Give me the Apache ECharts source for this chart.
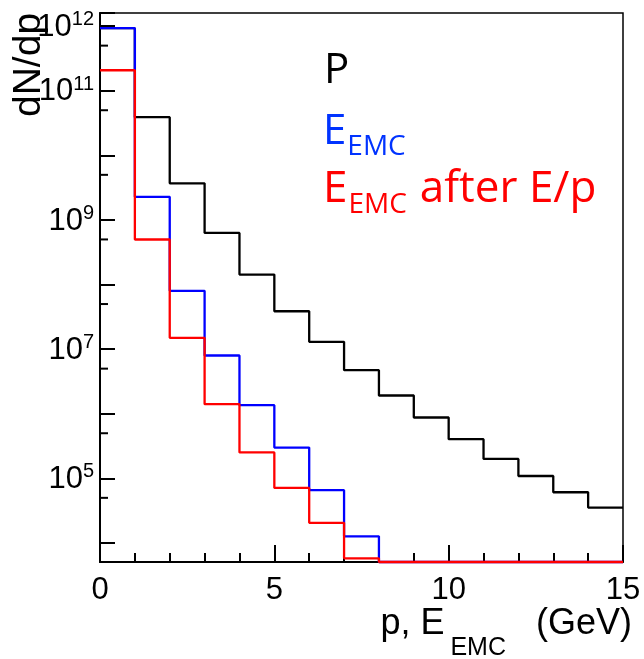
<!DOCTYPE html>
<html><head><meta charset="utf-8">
<script src="https://cdn.jsdelivr.net/npm/echarts@6/dist/echarts.min.js"></script>
<style>html,body{margin:0;padding:0;background:#fff}#c{width:644px;height:659px}</style>
</head><body><div id="c"></div>
<script>
// ---- data (bin width 1 GeV) ----
const BIN_EDGES = [0,1,2,3,4,5,6,7,8,9,10,11,12,13,14,15];
const P_COUNTS = [9.3e11, 3.9e10, 3.7e9, 6.3e8, 1.43e8, 3.87e7, 1.30e7, 4.73e6, 1.92e6, 8.76e5, 4.05e5, 2.0e5, 1.09e5, 6.1e4, 3.54e4];
const E_EMC_COUNTS = [9.3e11, 2.28e9, 8.0e7, 7.98e6, 1.36e6, 3.0e5, 6.57e4, 1.27e4, 0, 0, 0, 0, 0, 0, 0];
const E_EMC_AFTER_EP_COUNTS = [2.08e11, 4.99e8, 1.50e7, 1.41e6, 2.52e5, 7.13e4, 2.05e4, 5.8e3, 0, 0, 0, 0, 0, 0, 0];
const Y_LABEL_EXPONENTS = [12, 11, 9, 7, 5];
const Y_MINOR_TICKS = [5e4, 5e5, 5e6, 5e7, 5e8, 5e9, 5e10, 5e11];
const Y_MIN = 5080, Y_MAX = 1.6e12;
const X_MIN = 0, X_MAX = 15;

const FONT_AXIS = 'Liberation Sans, Arial, sans-serif';
const FONT_LEG = 'Open Sans, Noto Sans, sans-serif';
const K_AXIS = 0.31, K_LEG = 0.32;

function stepData(counts) {
  const pts = counts.map((c, i) => [BIN_EDGES[i], c > 0 ? c : Y_MIN]);
  pts.push([BIN_EDGES[counts.length], pts[pts.length - 1][1]]);
  return pts;
}

// rich text with subscripts; main-text baseline placed at baseY
function subText(x, baseY, parts, color, family, Sm, Ss, drop, k, align, subPad) {
  const L = drop + Ss / 2 + Sm / 2 + k * (Sm - Ss);
  const rich = {
    m: {fontSize: Sm, fontFamily: family, lineHeight: Sm, verticalAlign: 'top', fill: color},
    s: {fontSize: Ss, fontFamily: family, lineHeight: L, verticalAlign: 'bottom', fill: color,
        padding: subPad || [0, 0, 0, 0]}
  };
  const text = parts.map(p => '{' + (p[1] ? 's' : 'm') + '|' + p[0] + '}').join('');
  return {type: 'text', x: x, y: baseY - Sm / 2 - k * Sm, z: 100,
    style: {text: text, rich: rich, fill: color, align: align || 'left', verticalAlign: 'top'}};
}

const chart = echarts.init(document.getElementById('c'), null, {renderer: 'canvas'});
const lineCommon = {type: 'line', step: 'end', showSymbol: false, symbol: 'none', clip: false, animation: false};

chart.setOption({
  backgroundColor: '#fff',
  animation: false,
  grid: {left: 100, top: 13, right: 21, bottom: 97, show: true, borderColor: '#000', borderWidth: 1.5, backgroundColor: 'transparent'},
  xAxis: {
    type: 'value', min: X_MIN, max: X_MAX, interval: 5,
    axisLine: {show: true, onZero: false, lineStyle: {color: '#000', width: 2}},
    axisTick: {show: true, inside: true, length: 17, lineStyle: {color: '#000', width: 2}},
    minorTick: {show: true, splitNumber: 5, length: 9, lineStyle: {color: '#000', width: 2}},
    splitLine: {show: false}, minorSplitLine: {show: false},
    axisLabel: {color: '#000', fontSize: 31, fontFamily: FONT_AXIS, margin: 13}
  },
  yAxis: {
    type: 'log', logBase: 10, min: Y_MIN, max: Y_MAX, splitNumber: 8,
    axisLine: {show: true, lineStyle: {color: '#000', width: 2}},
    axisTick: {show: true, inside: true, length: 15, lineStyle: {color: '#000', width: 2}},
    splitLine: {show: false},
    axisLabel: {
      show: true, margin: 6, color: '#000', showMinLabel: true, showMaxLabel: true,
      formatter: function (v) {
        const e = Math.log10(v), n = Math.round(e);
        if (Math.abs(e - n) > 1e-6 || Y_LABEL_EXPONENTS.indexOf(n) < 0) return '';
        return '{b|10}{s|' + n + '}';
      },
      rich: {
        b: {fontSize: 31, fontFamily: FONT_AXIS, lineHeight: 33, verticalAlign: 'bottom', color: '#000'},
        s: {fontSize: 20, fontFamily: FONT_AXIS, lineHeight: 16, verticalAlign: 'top', color: '#000'}
      }
    }
  },
  series: [
    Object.assign({name: 'P', data: stepData(P_COUNTS), lineStyle: {color: '#000', width: 2.3}, z: 2}, lineCommon),
    Object.assign({name: 'E_EMC', data: stepData(E_EMC_COUNTS), lineStyle: {color: '#0000ff', width: 2.3}, z: 3}, lineCommon),
    Object.assign({name: 'E_EMC after E/p', data: stepData(E_EMC_AFTER_EP_COUNTS), lineStyle: {color: '#ff0000', width: 2.3}, z: 4}, lineCommon),
    {
      type: 'custom', coordinateSystem: 'cartesian2d', animation: false, silent: true, z: 5,
      data: Y_MINOR_TICKS.map(v => [X_MIN, v]),
      renderItem: function (params, api) {
        const p = api.coord([api.value(0), api.value(1)]);
        return {type: 'line', shape: {x1: p[0], y1: p[1], x2: p[0] + 8, y2: p[1]}, style: {stroke: '#000', lineWidth: 2}};
      }
    }
  ],
  graphic: [
    {type: 'text', x: 29, y: 117, rotation: Math.PI / 2, z: 100,
      style: {text: 'dN/dp', fontSize: 39, fontFamily: FONT_AXIS, fill: '#000', align: 'left', verticalAlign: 'middle'}},
    subText(632, 635, [['p, E', 0], ['EMC', 1], ['(GeV)', 0]], '#000', FONT_AXIS, 36, 25, 21, K_AXIS, 'right', [0, 30, 0, 6]),
    subText(324, 84, [['P', 0]], '#000', FONT_LEG, 42, 28, 10, K_LEG),
    subText(323, 145, [['E', 0], ['EMC', 1]], '#0033ff', FONT_LEG, 42, 28, 11, K_LEG, 'left', [0, 0, 0, 1]),
    subText(323, 204, [['E', 0], ['EMC', 1], ['after E/p', 0]], '#ff0000', FONT_LEG, 44, 28, 10, K_LEG, 'left', [0, 13, 0, 1])
  ]
});
</script></body></html>
